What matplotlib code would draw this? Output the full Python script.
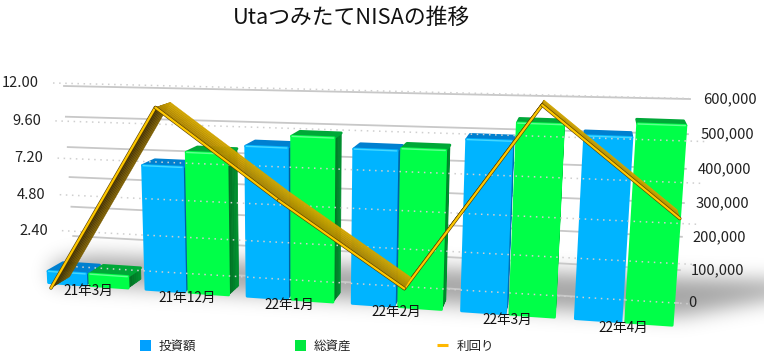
import numpy as np
import matplotlib
matplotlib.use("Agg")
import matplotlib.pyplot as plt
from matplotlib.colors import to_rgb
from matplotlib.patches import Polygon, Rectangle
from matplotlib.path import Path

plt.rcParams['font.family'] = ['Noto Sans CJK JP', 'DejaVu Sans']

# データ
months = ["21年3月", "21年12月", "22年1月", "22年2月", "22年3月", "22年4月"]
invest = [33000, 346000, 410000, 414000, 450000, 470000]
assets = [33000, 387000, 441000, 420000, 496000, 504000]
rate = [0.0, 10.3, 5.6, 1.25, 10.9, 5.6]
yen_ticks = [0, 100000, 200000, 300000, 400000, 500000, 600000]
rate_ticks = [0, 2.4, 4.8, 7.2, 9.6, 12.0]
YEN_MAX = 600000
RATE_MAX = 12.0

BLUE = ("#00B4FF", "#0080D0", "#005C98", "#45D8FF")
GREEN = ("#00FF48", "#00A838", "#006E22", "#60FF90")
VP = np.array([600.0, -44.0])  # 奥行きの消失点


def plane(bl, br, tl, tr):
    # 単位正方形 (t, v) -> ピクセル の射影変換
    src = [(0, 0), (1, 0), (0, 1), (1, 1)]
    dst = [bl, br, tl, tr]
    A, b = [], []
    for (u, v), (x, y) in zip(src, dst):
        A.append([u, v, 1, 0, 0, 0, -u * x, -v * x])
        A.append([0, 0, 0, u, v, 1, -u * y, -v * y])
        b += [x, y]
    h = np.linalg.solve(np.array(A, float), np.array(b, float))
    H = np.append(h, 1).reshape(3, 3)

    def f(t, v):
        p = H @ np.array([t, v, 1.0])
        return p[:2] / p[2]
    return f


bar_plane = plane((40, 282), (683, 326), (30, 68), (700, 86))
line_plane = plane((51, 288), (673, 330), (38, 73), (688, 85))
back_plane = plane((75, 265), (678, 303), (64, 86), (690, 99))
dot_plane = plane((64, 266), (692, 304), (53, 83), (711, 99))


def depth(p, k):
    return p + k * (VP - p)


def lerp(c1, c2, f):
    a, b = np.array(to_rgb(c1)), np.array(to_rgb(c2))
    return tuple(a + (b - a) * f)


def draw_shadow(ax):
    pad = 40
    xs, ys = np.meshgrid(np.arange(-pad, 764 + pad), np.arange(-pad, 360 + pad))
    poly = Path([(52, 264), (90, 256), (700, 278), (810, 282), (810, 292),
                 (680, 316), (300, 296), (52, 282)])
    pts = np.column_stack([xs.ravel() + .5, ys.ravel() + .5])
    mask = poly.contains_points(pts).reshape(xs.shape).astype(float)
    g = np.arange(-30, 31)
    kern = np.exp(-g ** 2 / (2 * 10.0 ** 2))
    kern /= kern.sum()
    mask = np.apply_along_axis(lambda r: np.convolve(r, kern, mode="same"), 0, mask)
    mask = np.apply_along_axis(lambda r: np.convolve(r, kern, mode="same"), 1, mask)
    img = np.zeros(mask.shape + (4,))
    img[..., 3] = mask * 0.36
    ax.imshow(img[pad:-pad, pad:-pad], extent=(0, 764, 360, 0), zorder=1, aspect="auto")


def draw_bar(ax, t0, t1, val, cols, z, k=0.027):
    v = val / YEN_MAX
    fl, fr = bar_plane(t0, 0), bar_plane(t1, 0)
    tl, tr = bar_plane(t0, v), bar_plane(t1, v)
    front, top, side, light = cols
    # 側面(グラデーション)
    n = 6
    for i in range(n):
        a, b = i / n * k, (i + 1) / n * k
        c = lerp(side, top, i / (n - 1) * 0.55)
        ax.add_patch(Polygon([depth(tr, a), depth(tr, b), depth(fr, b), depth(fr, a)],
                             fc=c, ec=c, lw=.6, joinstyle="round", zorder=z))
    ax.add_patch(Polygon([tl, tr, depth(tr, k), depth(tl, k)], fc=top, ec=top,
                         lw=2.0, joinstyle="round", zorder=z))
    ax.add_patch(Polygon([fl, fr, tr, tl], fc=front, ec=front, lw=2.0,
                         joinstyle="round", zorder=z + .1))
    ax.plot(*zip(tl + np.array([.5, .2]), tr + np.array([-.5, .2])), color=light, lw=1.0,
            solid_capstyle="round", zorder=z + .2)


def draw_ribbon(ax, pts, k=0.034):
    # 上りを先に、下りを後から描く(折り返しの見え方のため)
    order = [i for i in range(len(pts) - 1) if pts[i + 1][1] < pts[i][1]] + \
            [i for i in range(len(pts) - 1) if pts[i + 1][1] >= pts[i][1]]
    z = 20
    for i in order:
        p, q = pts[i], pts[i + 1]
        rising = q[1] < p[1]
        c_front, c_back = ("#3A2800", "#7A5C00") if rising else ("#A88000", "#D0A400")
        n = 8
        for j in range(n):
            a, b = j / n * k, (j + 1) / n * k
            c = lerp(c_front, c_back, j / (n - 1))
            ax.add_patch(Polygon([depth(p, a), depth(q, a), depth(q, b), depth(p, b)],
                                 fc=c, ec=c, lw=.3, zorder=z))
        x, y = zip(p, q)
        ax.plot(x, y, color="#5A4000", lw=2.5, solid_capstyle="round", zorder=z + .1)
        ax.plot(x, y, color="#FFC800", lw=1.6, solid_capstyle="round", zorder=z + .2)
        z += 1


def main():
    fig = plt.figure(figsize=(7.64, 3.6), dpi=100)
    ax = fig.add_axes([0, 0, 1, 1])
    draw_shadow(ax)
    ax.set_xlim(0, 764)
    ax.set_ylim(360, 0)
    ax.axis("off")

    # 奥の実線グリッド(右軸)
    for val in yen_ticks:
        v = val / YEN_MAX
        a, b = back_plane(0, v), back_plane(1, v)
        ax.plot([a[0], b[0]], [a[1], b[1]], color="#C8C8C8", lw=1.3, zorder=2)
        off = 10 + 3 * v
        ax.text(b[0] + off, b[1], f"{val:,}", ha="left", va="center", fontsize=10.6,
                color="#222222", zorder=40)

    # 棒
    n = len(months)
    for i in range(n):
        s = i / n
        w = 1 / n
        draw_bar(ax, s + .09 * w, s + .48 * w, invest[i], BLUE, 5 + i)
        draw_bar(ax, s + .52 * w, s + .91 * w, assets[i], GREEN, 5.5 + i)
        c = bar_plane(s + .5 * w, 0)
        ax.text(c[0], c[1] + 6, months[i], ha="center", va="center", fontsize=9.8,
                color="#111111", zorder=30)

    # 手前の点線グリッド(左軸)
    for val in rate_ticks:
        v = val / RATE_MAX
        end = 0.97 if val == RATE_MAX else 1.0
        a, b = dot_plane(0, v), dot_plane(end, v)
        ax.plot([a[0], b[0]], [a[1], b[1]], color="#CFCFCF", lw=1.1, ls=(0, (1, 3)), zorder=15)
        if val > 0:
            ax.text(a[0] - 14, a[1], f"{val:.2f}", ha="right", va="center", fontsize=10.6,
                    color="#222222", zorder=40)

    # 利回り
    pts = [line_plane(i / (n - 1), r / RATE_MAX) for i, r in enumerate(rate)]
    draw_ribbon(ax, pts)

    ax.text(351, 18, "UtaつみたてNISAの推移", ha="center", va="center", fontsize=15.7, color="#111111")

    # 凡例
    ax.add_patch(Rectangle((140, 340), 11, 11, fc="#00A0FF", ec="none"))
    ax.text(159, 346, "投資額", ha="left", va="center", fontsize=9, color="#222222")
    ax.add_patch(Rectangle((295, 340), 11, 11, fc="#00E840", ec="none"))
    ax.text(314, 346, "総資産", ha="left", va="center", fontsize=9, color="#222222")
    ax.plot([437, 448], [345, 345], color="#FFB800", lw=2.2, solid_capstyle="butt")
    ax.text(457, 346, "利回り", ha="left", va="center", fontsize=9, color="#222222")

    fig.savefig("out.png", dpi=100)


if __name__ == "__main__":
    main()
